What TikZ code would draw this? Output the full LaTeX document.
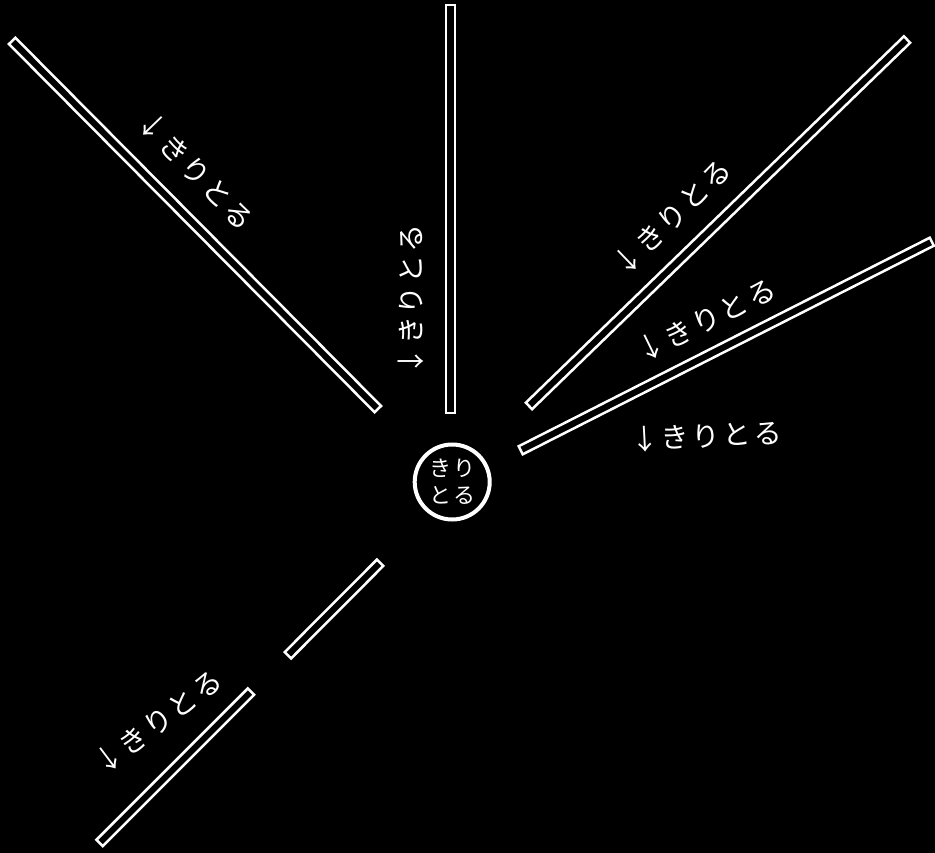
\documentclass[tikz,border=0pt]{standalone}
\usepackage{fontspec}
\newfontfamily\jp[LetterSpace=10]{Noto Sans CJK JP}
\begin{document}
\begin{tikzpicture}[x=1pt,y=-1pt,
  strip/.style={draw=white, line width=2.5pt, rectangle, minimum height=9pt, inner sep=0pt},
  lbl/.style={text=white, font=\jp\fontsize{28}{30}\selectfont, inner sep=0pt},
  ring/.style={draw=white, line width=4pt, circle, minimum size=75pt, inner sep=0pt},
  ringtxt/.style={text=white, font=\jp\fontsize{22}{27}\selectfont, inner sep=0pt, align=center}
  ]
\fill[black] (0,0) rectangle (935,853);
\useasboundingbox (0,0) rectangle (935,853);
% strips
\node[strip, minimum width=519pt, rotate=-45.2] (s1) at (195,225) {};
\node[strip, minimum width=407.5pt, rotate=90] (s2) at (450.5,209) {};
\node[strip, minimum width=526.5pt, rotate=44.1] (s3) at (718,222.75) {};
\node[strip, minimum width=461pt, rotate=26.9] (s4) at (726.25,346) {};
\node[strip, minimum width=130.5pt, rotate=45.1] (s5) at (334,609) {};
\node[strip, minimum width=214pt, rotate=45] (s6) at (175.3,767.3) {};
% centre ring
\node[ring] (c) at (452.2,482) {};
\node[ringtxt] (ct) at (c) {きり\\とる};
% labels
\node[lbl, rotate=-46] (t1) at (196,171) {↓きりとる};
\node[lbl, rotate=90] (t2) at (410.5,300) {↓きりとる};
\node[lbl, rotate=44] (t3) at (672,217) {↓きりとる};
\node[lbl, rotate=26] (t4) at (706,320) {↓きりとる};
\node[lbl, rotate=3] (t5) at (706,436) {↓きりとる};
\node[lbl, rotate=37] (t6) at (158,722) {↓きりとる};
\end{tikzpicture}
\end{document}
